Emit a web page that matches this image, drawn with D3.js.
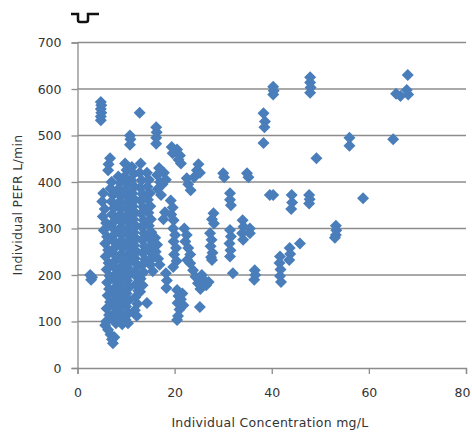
<!DOCTYPE html>
<html>
<head>
<meta charset="utf-8">
<script src="https://cdn.jsdelivr.net/npm/d3@7"></script>
<style>
  body { margin: 0; background: #fff; }
  svg text { font-family: "DejaVu Sans", sans-serif; }
</style>
</head>
<body>
<div id="chart"></div>
<script>
// [concentration mg/L, PEFR L/min]
const lowConc = [
  [2.6, 200], [2.8, 190], [3.0, 195],
  [4.8, 533], [4.8, 541], [4.9, 549], [4.8, 557], [4.9, 565], [4.8, 572],
  [5.3, 376], [5.1, 358], [5.6, 342], [5.2, 326], [5.9, 312], [5.4, 296], [6.1, 282], [5.7, 268],
  [6.3, 254], [5.8, 240], [6.4, 226], [6.0, 212], [6.6, 198], [6.1, 184], [6.5, 170], [6.2, 156],
  [6.7, 142], [6.0, 128], [6.5, 114], [5.9, 100], [5.7, 92], [6.3, 82], [6.8, 72], [7.1, 62],
  [7.3, 53], [7.6, 66], [6.7, 451], [6.4, 438], [6.3, 425],
  [7.0, 400], [6.8, 386], [7.3, 372], [7.0, 358], [7.5, 344], [7.1, 330], [7.6, 316], [7.2, 302],
  [7.7, 288], [7.3, 274], [7.8, 260], [7.4, 246], [7.9, 232], [7.5, 218], [8.0, 204], [7.6, 190],
  [8.0, 176], [7.5, 162], [7.9, 148], [7.4, 134], [7.8, 120], [7.3, 108], [7.9, 96],
  [8.4, 412], [8.8, 398], [8.3, 384], [8.9, 370], [8.5, 356], [9.0, 342], [8.6, 328], [9.1, 314],
  [8.7, 300], [9.2, 286], [8.8, 272], [9.3, 258], [8.9, 244], [9.4, 230], [8.8, 216], [9.3, 202],
  [8.7, 188], [9.2, 174], [8.6, 160], [9.1, 146], [8.5, 132], [9.0, 118], [8.6, 104], [9.2, 94],
  [9.8, 440], [10.1, 426], [9.7, 412], [10.3, 398], [9.9, 384], [10.5, 370], [10.0, 356], [10.6, 342],
  [10.1, 328], [10.7, 314], [10.2, 300], [10.8, 286], [10.3, 272], [10.9, 258], [10.4, 244], [10.9, 230],
  [10.3, 216], [10.8, 202], [10.2, 188], [10.7, 174], [10.1, 160], [10.6, 146], [10.0, 132], [10.5, 118],
  [9.9, 104], [10.4, 96], [10.8, 480], [10.9, 492], [10.8, 500]
];

const midConc = [
  [11.2, 432], [11.6, 418], [11.1, 404], [11.7, 390], [11.3, 376], [11.8, 362], [11.4, 348], [11.9, 334],
  [11.5, 320], [12.0, 306], [11.6, 292], [12.1, 278], [11.7, 264], [12.2, 250], [11.8, 236], [12.3, 222],
  [11.9, 208], [12.4, 194], [12.0, 180], [12.5, 166], [11.9, 152], [12.3, 138], [11.8, 124], [12.2, 112],
  [12.8, 549], [13.0, 440], [12.8, 420], [13.2, 404], [12.9, 388], [13.4, 374], [13.0, 360], [13.5, 346],
  [13.1, 332], [13.6, 318], [13.2, 304], [13.7, 290], [13.3, 276], [13.8, 262], [13.4, 248], [13.9, 234],
  [13.2, 220], [13.6, 206], [13.0, 192], [13.4, 178], [12.9, 164], [14.3, 140],
  [14.3, 420], [14.7, 405], [14.4, 390], [14.9, 376], [14.5, 362], [15.0, 348], [14.6, 334], [15.1, 320],
  [14.7, 306], [15.2, 292], [14.8, 278], [15.3, 264], [14.9, 250], [15.4, 236], [15.0, 222], [15.5, 208],
  [16.2, 482], [16.2, 495], [16.3, 507], [16.2, 518],
  [16.4, 415], [16.8, 430], [17.0, 400], [16.5, 385], [17.2, 372], [17.8, 420], [18.2, 405], [17.5, 395],
  [16.0, 280], [16.4, 265], [16.1, 250], [16.6, 235], [16.9, 222], [17.7, 320], [18.0, 335],
  [18.2, 204], [18.4, 188], [18.3, 172],
  [19.4, 475], [19.6, 462], [20.5, 470], [21.1, 457], [21.3, 440], [20.8, 448],
  [19.2, 360], [19.6, 345], [19.3, 330], [19.8, 318],
  [19.7, 300], [20.1, 286], [19.8, 272], [20.3, 258], [19.9, 244], [20.4, 230], [19.7, 217],
  [20.5, 168], [20.8, 155], [20.6, 140], [21.0, 126], [20.7, 112], [20.5, 103], [21.3, 148], [21.6, 160], [21.8, 135]
];

const highConc = [
  [22.5, 408], [22.8, 395], [23.3, 382], [24.0, 410], [24.6, 425], [24.9, 438], [25.2, 420],
  [22.0, 300], [22.5, 286], [22.2, 272], [22.8, 258], [23.2, 244], [23.2, 225], [22.6, 232],
  [23.8, 210], [24.3, 196], [24.8, 182], [25.3, 170], [26.0, 190], [26.5, 178], [25.6, 200], [27.0, 185],
  [25.2, 131], [27.7, 232],
  [27.3, 290], [27.6, 276], [27.4, 262], [27.8, 248], [27.5, 238], [28.0, 333], [27.7, 320], [28.1, 311],
  [30.0, 419], [30.2, 410], [31.4, 376], [31.4, 362], [31.6, 350], [31.4, 297], [31.6, 283], [31.3, 268],
  [31.5, 253], [31.4, 240], [32.0, 204],
  [34.9, 419], [35.2, 410], [34.0, 318], [34.2, 304], [33.9, 290], [34.1, 276], [35.5, 300], [35.5, 290],
  [36.5, 210], [36.6, 200], [36.4, 190], [38.3, 548], [38.5, 518], [38.3, 484], [38.6, 530],
  [39.6, 372], [40.3, 372], [40.3, 605], [40.4, 596], [40.3, 588],
  [41.7, 240], [41.6, 226], [41.8, 212], [41.7, 198], [41.9, 185], [43.7, 258], [43.8, 245], [43.6, 232],
  [44.1, 372], [44.2, 356], [44.0, 342], [45.8, 268],
  [47.7, 372], [47.8, 363], [47.7, 354], [47.9, 625], [47.9, 614], [48.0, 603], [47.9, 592], [49.2, 451],
  [53.2, 306], [53.3, 296], [53.2, 286], [53.0, 280], [56.0, 495], [56.0, 478], [58.8, 365],
  [65.0, 492], [65.6, 590], [66.5, 585], [67.8, 598], [68.1, 588], [68.0, 630]
];

const xTicks = [0, 20, 40, 60, 80];
const yTicks = [0, 100, 200, 300, 400, 500, 600, 700];

const W = 472, H = 432;
const svg = d3.select('#chart').append('svg').attr('width', W).attr('height', H);

const x = d3.scaleLinear().domain([0, 80]).range([77.5, 466]);
const y = d3.scaleLinear().domain([0, 700]).range([368, 42.5]);

// Gridlines
svg.append('g')
  .selectAll('line')
  .data(yTicks.filter(d => d > 0))
  .join('line')
  .attr('x1', x(0)).attr('x2', x(80))
  .attr('y1', d => y(d)).attr('y2', d => y(d))
  .attr('stroke', '#8c8c8c')
  .attr('stroke-width', 1.3);

// Axes
const yAxis = svg.append('g')
  .attr('transform', `translate(${x(0)},0)`)
  .call(d3.axisLeft(y).tickValues(yTicks).tickSize(6).tickPadding(10));
const xAxis = svg.append('g')
  .attr('transform', `translate(0,${y(0)})`)
  .call(d3.axisBottom(x).tickValues(xTicks).tickSize(6).tickPadding(14));

[yAxis, xAxis].forEach(a => {
  a.select('.domain').attr('stroke', '#8c8c8c').attr('stroke-width', 1.3);
  a.selectAll('.tick line').attr('stroke', '#8c8c8c').attr('stroke-width', 1.3);
  a.selectAll('.tick text').attr('fill', '#333').attr('font-size', 12.5)
    .style('font-family', '"DejaVu Sans", sans-serif');
});
// last x label sits inside the picture edge
xAxis.selectAll('.tick text').filter(d => d === 80)
  .attr('text-anchor', 'end').attr('x', 4);

// Points
const diamond = d3.symbol().type(d3.symbolSquare).size(72);
svg.append('g')
  .selectAll('path')
  .data(lowConc.concat(midConc, highConc))
  .join('path')
  .attr('d', diamond)
  .attr('transform', d => `translate(${x(d[0])},${y(d[1])}) rotate(45)`)
  .attr('fill', '#4a7ebb');

// Axis titles
svg.append('text')
  .attr('x', 270).attr('y', 427)
  .attr('text-anchor', 'middle')
  .attr('font-size', 12.5)
  .attr('letter-spacing', 0.3)
  .attr('fill', '#333')
  .text('Individual Concentration  mg/L');

svg.append('text')
  .attr('transform', 'translate(22,205) rotate(-90)')
  .attr('text-anchor', 'middle')
  .attr('font-size', 12.5)
  .attr('letter-spacing', 0.3)
  .attr('fill', '#333')
  .text('Individual PEFR  L/min');

// stray mark at top left
svg.append('path')
  .attr('d', 'M71,14 H78 V20 Q78,22 80,22 H86 Q88,22 88,20 V14 H99')
  .attr('fill', 'none')
  .attr('stroke', '#111')
  .attr('stroke-width', 2.5);
</script>
</body>
</html>
